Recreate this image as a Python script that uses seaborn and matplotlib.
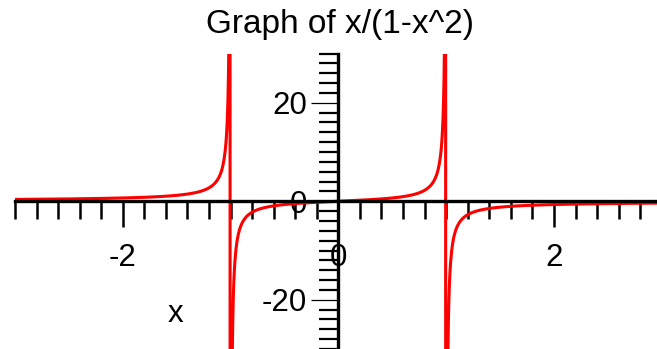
import numpy as np
import pandas as pd
import matplotlib
matplotlib.use("Agg")
import matplotlib.pyplot as plt
from matplotlib.ticker import MultipleLocator
import seaborn as sns

# Function graph of f(x) = x / (1 - x^2), sampled across the window
x_min, x_max = -3.0, 2.956
y_min, y_max = -30.0, 30.0
x_major = [-2, 0, 2]
y_major = [-20, 0, 20]
title_text = "Graph of x/(1-x^2)"
x_label = "x"

xs = np.linspace(-3.0, 3.0, 1201) + 1e-4
ys = xs / (1 - xs ** 2)
df = pd.DataFrame({"x": xs, "y": ys})

sns.set_style("white")
plt.rcParams["font.family"] = ["Liberation Sans", "DejaVu Sans"]
plt.rcParams["text.color"] = "black"

fig = plt.figure(figsize=(6.57, 3.49), dpi=100)
ax = fig.add_axes([15 / 657, 0.0, 642 / 657, 295.5 / 349])

sns.lineplot(data=df, x="x", y="y", color="red", linewidth=2.2, ax=ax,
             sort=False, estimator=None)

ax.set_xlim(x_min, x_max)
ax.set_ylim(y_min, y_max)

# Axes drawn through the origin
for side in ["top", "right"]:
    ax.spines[side].set_visible(False)
ax.spines["left"].set_position(("data", 0))
ax.spines["bottom"].set_position(("data", 0))
for side in ["left", "bottom"]:
    ax.spines[side].set_linewidth(2.4)
    ax.spines[side].set_color("black")

ax.set_xticks(x_major)
ax.set_yticks(y_major)
ax.xaxis.set_minor_locator(MultipleLocator(0.2))
ax.yaxis.set_minor_locator(MultipleLocator(2))

ax.tick_params(axis="x", which="both", bottom=True, top=False)
ax.tick_params(axis="y", which="both", left=True, right=False)
ax.tick_params(axis="x", which="major", direction="out", length=19, width=1.8,
               pad=11, labelsize=22.5, colors="black", labelcolor="black")
ax.tick_params(axis="x", which="minor", direction="out", length=13, width=1.8,
               colors="black")
ax.tick_params(axis="y", which="major", direction="out", length=19.5, width=0.9,
               pad=3, labelsize=22.5, colors="black", labelcolor="black")
ax.tick_params(axis="y", which="minor", direction="out", length=14, width=1.6,
               colors="black")

ax.set_xticklabels([str(v) for v in x_major])
ax.set_yticklabels([str(v) for v in y_major])

ax.set_xlabel(x_label, fontsize=22.5, color="black", va="center")
ax.xaxis.set_label_coords((175 - 15) / 642, (349 - 314) / 295.5)
ax.set_ylabel("")

fig.text(340 / 657, 1 - 25 / 349, title_text, ha="center", va="center",
         fontsize=24, color="black")

fig.savefig("out.png", dpi=100)
